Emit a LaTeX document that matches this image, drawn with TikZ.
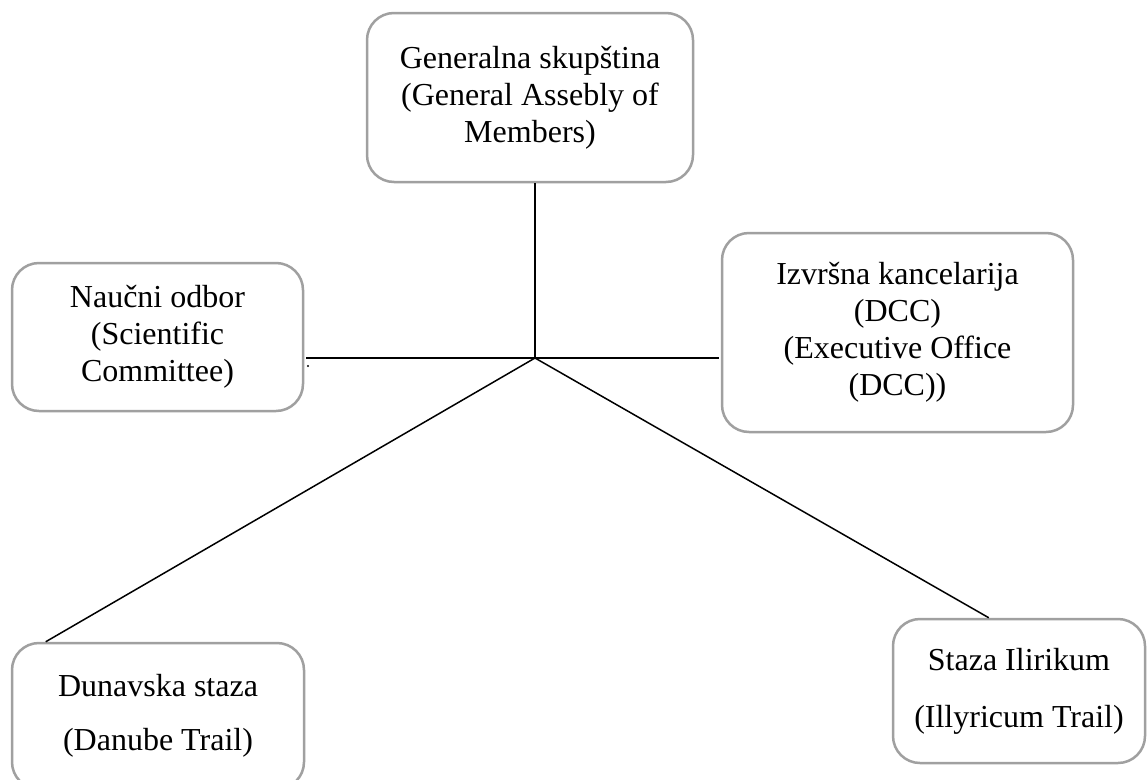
\documentclass[tikz,border=0pt]{standalone}
\usepackage{fontspec}
\setmainfont{Liberation Serif}
\usepackage{xcolor}
\usepackage{tikz}
\usetikzlibrary{positioning}
\definecolor{orggray}{HTML}{A0A0A0}
\tikzset{
  orgbox/.style={draw=orggray,line width=2.5pt,rounded corners=27pt,fill=white,
    align=center,inner sep=0pt,font=\fontsize{32}{37}\selectfont},
  orgline/.style={draw=black,line width=1.5pt}
}
\begin{document}
\begin{tikzpicture}[x=1pt,y=-1pt]
  \useasboundingbox (0,0) rectangle (1147,779);
  \clip (0,0) rectangle (1147,779);
  \fill[white] (0,0) rectangle (1147,779);
  \node[orgbox,minimum width=326pt,minimum height=169pt] (gen) at (530,97.5)
    {Generalna skupština\\(General Assebly of\\Members)};
  \node[orgbox,minimum width=291pt,minimum height=148pt] (sci) at (157.5,337)
    {Naučni odbor\\(Scientific\\Committee)};
  \node[orgbox,minimum width=351pt,minimum height=199pt] (exe) at (897.5,332.5)
    {Izvršna kancelarija\\(DCC)\\(Executive Office\\(DCC))};
  \node[orgbox,minimum width=292pt,minimum height=146pt] (dan) at (158,716)
    {Dunavska staza\\[17pt](Danube Trail)};
  \node[orgbox,minimum width=252pt,minimum height=144pt] (ill) at (1019,691)
    {Staza Ilirikum\\[20pt](Illyricum Trail)};
  \coordinate (hub) at (535,358);
  % connectors
  \draw[orgline] (hub |- gen.south) -- (hub);
  \draw[orgline] ([xshift=2pt]sci.east |- hub) -- ([xshift=-2pt]exe.west |- hub);
  \draw[orgline] (hub) -- ([xshift=35pt]dan.north west);
  \draw[orgline] (hub) -- ([xshift=97pt]ill.north west);
  \fill (308,366) circle (1.2pt);
\end{tikzpicture}
\end{document}
